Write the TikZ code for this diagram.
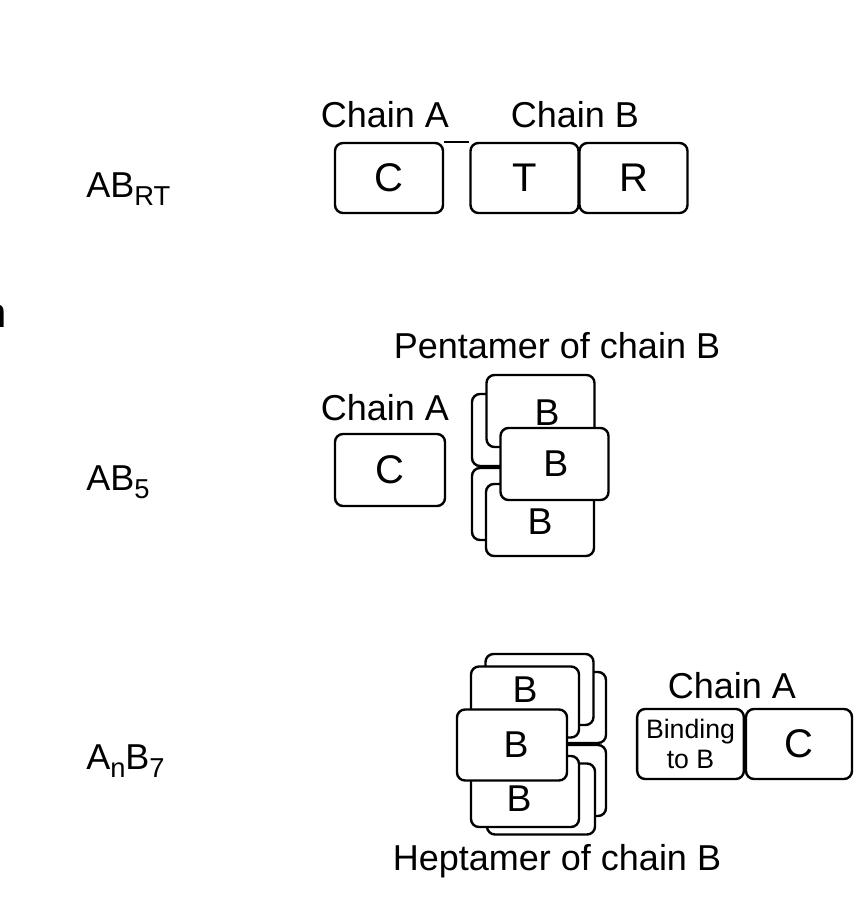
\documentclass[tikz,border=0pt]{standalone}
\usepackage{fontspec}
\setmainfont{Liberation Sans}
\newcommand{\lblfont}{\fontsize{27}{31}\selectfont}
\newcommand{\boxfont}{\fontsize{30}{33}\selectfont}
\newcommand{\bfont}{\fontsize{28}{31}\selectfont}
\newcommand{\subs}[1]{\raisebox{-6pt}{\fontsize{20.5}{22}\selectfont #1}}
\begin{document}
\begin{tikzpicture}[x=0.75pt,y=-0.75pt,
  bx/.style={draw, line width=1.8pt, rounded corners=6pt, fill=white,
             minimum width=81pt, minimum height=52.5pt, inner sep=0pt, font=\boxfont},
  pbx/.style={bx, minimum width=81pt, minimum height=54pt},
  hbx/.style={bx, minimum width=81pt, minimum height=53.25pt},
  txt/.style={inner sep=0pt, font=\lblfont, anchor=base}]
\useasboundingbox (0,0) rectangle (860,920);

% fragment at left edge
\node[inner sep=0pt, anchor=base east, font=\fontsize{31.5}{35}\selectfont] (frag) at (7,327) {n};

% left labels
\node[txt, anchor=base west] (l1) at (86,197) {AB\subs{RT}};
\node[txt, anchor=base west] (l2) at (86,490) {AB\subs{5}};
\node[txt, anchor=base west] (l3) at (86,769) {A\subs{n}B\subs{7}};

% ---- top row
\node[txt] (ca1) at (385,128) {Chain A};
\node[txt] (cb1) at (575,128) {Chain B};
\node[bx] (c1) at (389,178) {C};
\node[bx] (t1) at (524.5,178) {T};
\node[bx] (r1) at (633.5,178) {R};
\draw[line width=1.8pt] (c1.north east) -- (t1.north west);

% ---- middle row
\node[txt] (pent) at (557,358) {Pentamer of chain B};
\node[txt] (ca2) at (385,420) {Chain A};
\node[bx, minimum width=82.5pt, minimum height=54pt] (c2) at (390,470) {C};
\node[pbx] (pbu) at (526,430) {};
\node[pbx] (pbl) at (526,504) {};
\node[pbx, label={[font=\bfont, inner sep=0pt, xshift=5pt, yshift=-1.5pt]center:B}] (ptp) at (540.5,411) {};
\node[pbx, label={[font=\bfont, inner sep=0pt, yshift=-1.5pt]center:B}] (pbt) at (540,520) {};
\node[pbx, label={[font=\bfont, inner sep=0pt, xshift=1pt]center:B}] (pfr) at (554.5,464) {};

% ---- bottom row
\node[hbx] (h1) at (552,707.5) {};
\node[hbx] (h2) at (552,780.5) {};
\node[hbx] (h3) at (539.5,689.5) {};
\node[hbx] (h4) at (541,799) {};
\node[hbx, label={[font=\bfont, inner sep=0pt, yshift=9pt]center:B}] (h5) at (525,702) {};
\node[hbx, label={[font=\bfont, inner sep=0pt, xshift=-4.5pt, yshift=-5pt]center:B}] (h6) at (525,791.5) {};
\node[hbx, minimum width=82.5pt, label={[font=\bfont, inner sep=0pt, xshift=3pt]center:B}] (h7) at (512,745) {};
\node[txt] (hept) at (557,870) {Heptamer of chain B};

\node[txt] (ca3) at (732,698) {Chain A};
\node[bx, minimum width=80pt, align=center, font=\fontsize{20}{22.5}\selectfont] (bind) at (690.5,744) {Binding\\to B};
\node[bx, minimum width=79.5pt] (c3) at (799,744) {C};
\end{tikzpicture}
\end{document}
